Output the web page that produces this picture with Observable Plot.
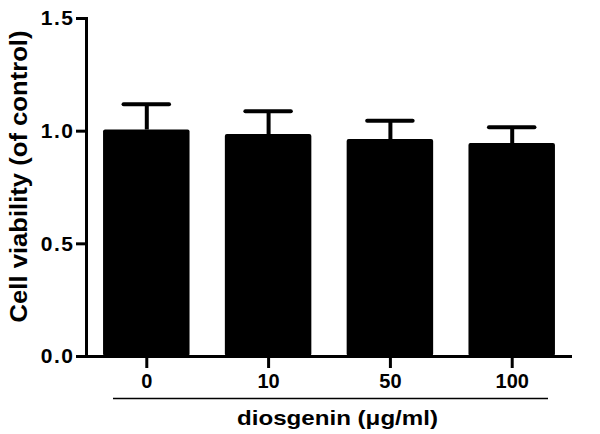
<!DOCTYPE html>
<html>
<head>
<meta charset="utf-8">
<script src="https://cdn.jsdelivr.net/npm/d3@7"></script>
<script src="https://cdn.jsdelivr.net/npm/@observablehq/plot@0.6"></script>
<style>
  html, body { margin: 0; padding: 0; background: #fff; }
  svg { display: block; }
</style>
</head>
<body>
<div id="chart"></div>
<script>
const doses = ["0", "10", "50", "100"];
const means = [1.005, 0.985, 0.963, 0.945];
const sds = [0.115, 0.103, 0.083, 0.072];
const yTicks = [0, 0.5, 1.0, 1.5];
const xTitle = "diosgenin (\u03BCg/ml)";
const yTitle = "Cell viability (of control)";

const data = doses.map((d, i) => ({dose: d, mean: means[i], sd: sds[i], top: means[i] + sds[i]}));
const font = "'Liberation Sans', Arial, sans-serif";

const chart = Plot.plot({
  width: 600,
  height: 434,
  marginLeft: 86,
  marginRight: 28,
  marginTop: 18,
  marginBottom: 78,
  style: {fontFamily: font, fontWeight: "bold", fontSize: "20px", color: "#000", background: "#fff"},
  x: {domain: doses, paddingInner: 0.29, paddingOuter: 0.14, round: false},
  y: {domain: [0, 1.5]},
  marks: [
    Plot.barY(data, {x: "dose", y: "mean", fill: "#000", rx: 2}),
    Plot.ruleX(data, {x: "dose", y1: "mean", y2: "top", stroke: "#000", strokeWidth: 4}),
    Plot.tickY(data, {x: "dose", y: "top", stroke: "#000", strokeWidth: 4, insetLeft: 20.5, insetRight: 20.5, strokeLinecap: "round"}),
    Plot.axisY({ticks: yTicks, tickFormat: d3.format(".1f"), tickSize: 10, tickPadding: 2, strokeWidth: 3, label: null, fontSize: 21, fontWeight: "bold"}),
    Plot.axisX({tickSize: 12, tickPadding: 5, strokeWidth: 3, label: null, fontSize: 20, fontWeight: "bold"}),
    Plot.frame({anchor: "left", stroke: "#000", strokeWidth: 3}),
    Plot.ruleY([0], {stroke: "#000", strokeWidth: 3}),
    Plot.ruleY([0], {stroke: "#000", strokeWidth: 1.5, dy: 42, insetLeft: 27, insetRight: 24}),
    Plot.text([xTitle], {frameAnchor: "bottom", lineAnchor: "middle", textAnchor: "middle", dy: 61.5, dx: 8, fontSize: 21, fontWeight: "bold", fill: "#000", className: "xtitle"}),
    Plot.text([yTitle], {frameAnchor: "left", textAnchor: "middle", lineAnchor: "middle", rotate: -90, dx: -67, dy: -11, fontSize: 23, fontWeight: "bold", fill: "#000", className: "ytitle"})
  ]
});
document.getElementById("chart").appendChild(chart);

// Stretch titles to the lengths they have in the reference image
d3.select(chart).selectAll(".xtitle text").attr("textLength", 201).attr("lengthAdjust", "spacingAndGlyphs");
d3.select(chart).selectAll(".ytitle text").attr("textLength", 292).attr("lengthAdjust", "spacingAndGlyphs");
d3.select(chart).selectAll('g[aria-label="y-axis tick label"] text').style("letter-spacing", "1.5px");
</script>
</body>
</html>
